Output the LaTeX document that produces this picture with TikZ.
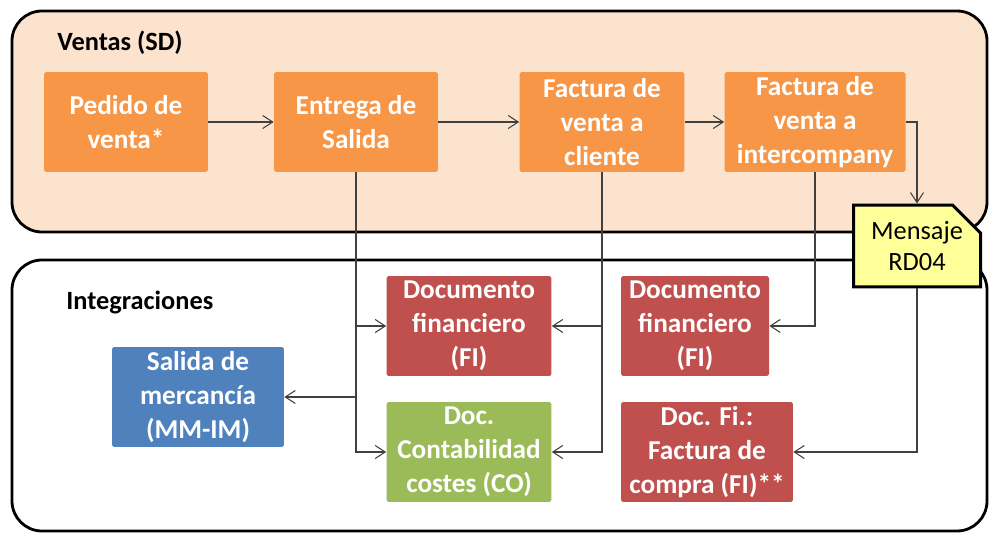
\documentclass[tikz,border=0pt]{standalone}
\usepackage{fontspec}
\setmainfont{Carlito}
\usetikzlibrary{arrows.meta,shapes.misc}

\definecolor{ventasbg}{HTML}{FCE3CD}
\definecolor{sdorange}{HTML}{F79646}
\definecolor{fired}{HTML}{C0504D}
\definecolor{cogreen}{HTML}{9BBB59}
\definecolor{mmblue}{HTML}{4F81BD}
\definecolor{msgyellow}{HTML}{FFFF99}
\definecolor{linegray}{HTML}{404040}

\begin{document}
\begin{tikzpicture}[x=0.02cm,y=-0.02cm]

\tikzset{panel/.style = {draw=black,line width=1.6pt,rounded corners=0.6cm}}
\tikzset{title/.style = {anchor=west,inner sep=0pt,font=\fontsize{15}{18}\selectfont\bfseries}}
\tikzset{box/.style = {shape=rectangle,rounded corners=1pt,text=white,align=center,
  minimum height=2cm,inner sep=0pt,font=\fontsize{15.5}{19.3}\selectfont\bfseries}}
\tikzset{edge/.style = {-{Straight Barb[length=2mm,width=2.6mm]},draw=linegray,line width=0.6pt}}

\useasboundingbox (0,0) rectangle (989,533);

% panels
\draw[panel,fill=ventasbg] (12,11) rectangle (987,232);
\draw[panel,fill=white] (12,260) rectangle (987,531);
\node[title] (ventas) at (57,43) {Ventas (SD)};
\node[title] (integ) at (66,302) {Integraciones};

% ventas
\node[box,fill=sdorange,minimum width=3.28cm] (pedido) at (126,122) {Pedido de\\venta*};
\node[box,fill=sdorange,minimum width=3.28cm] (entrega) at (356,122) {Entrega de\\Salida};
\node[box,fill=sdorange,minimum width=3.3cm] (cliente) at (602,122) {Factura de\\venta a\\cliente};
\node[box,fill=sdorange,minimum width=3.62cm] (interco) at (815,122) {Factura de\\venta a\\intercompany};

% integraciones
\node[box,fill=fired,minimum width=3.3cm] (fiA) at (469,326) {Documento\\financiero\\(FI)};
\node[box,fill=cogreen,minimum width=3.3cm] (co) at (469,452) {Doc.\\Contabilidad\\costes (CO)};
\node[box,fill=fired,minimum width=2.96cm] (fiB) at (695,326) {Documento\\financiero\\(FI)};
\node[box,fill=fired,minimum width=3.44cm] (compra) at (707,452) {Doc. Fi.:\\Factura de\\compra (FI)**};
\node[box,fill=mmblue,minimum width=3.44cm] (salida) at (198,397) {Salida de\\mercancía\\(MM-IM)};

% mensaje
\node[chamfered rectangle,chamfered rectangle corners=north east,
  chamfered rectangle xsep=0.28cm,chamfered rectangle ysep=0.28cm,
  draw=black,line width=1.7pt,fill=msgyellow,minimum width=2.54cm,minimum height=1.64cm,
  inner sep=0pt,align=center,font=\fontsize{15}{18}\selectfont] (mensaje) at (917,246) {Mensaje\\RD04};

\draw[edge] (pedido) -- (entrega);
\draw[edge] (entrega) -- (cliente);
\draw[edge] (cliente) -- (interco);
\draw[edge] (interco.east) -| (mensaje.north);
\draw[edge] (mensaje.south) |- (compra.east);
\draw[edge] (interco.south) |- (fiB.east);
\draw[edge] (entrega.south) |- (fiA.west);
\draw[edge] (entrega.south) |- (co.west);
\draw[edge] (entrega.south) |- (salida.east);
\draw[edge] (cliente.south) |- (fiA.east);
\draw[edge] (cliente.south) |- (co.east);

\end{tikzpicture}
\end{document}
